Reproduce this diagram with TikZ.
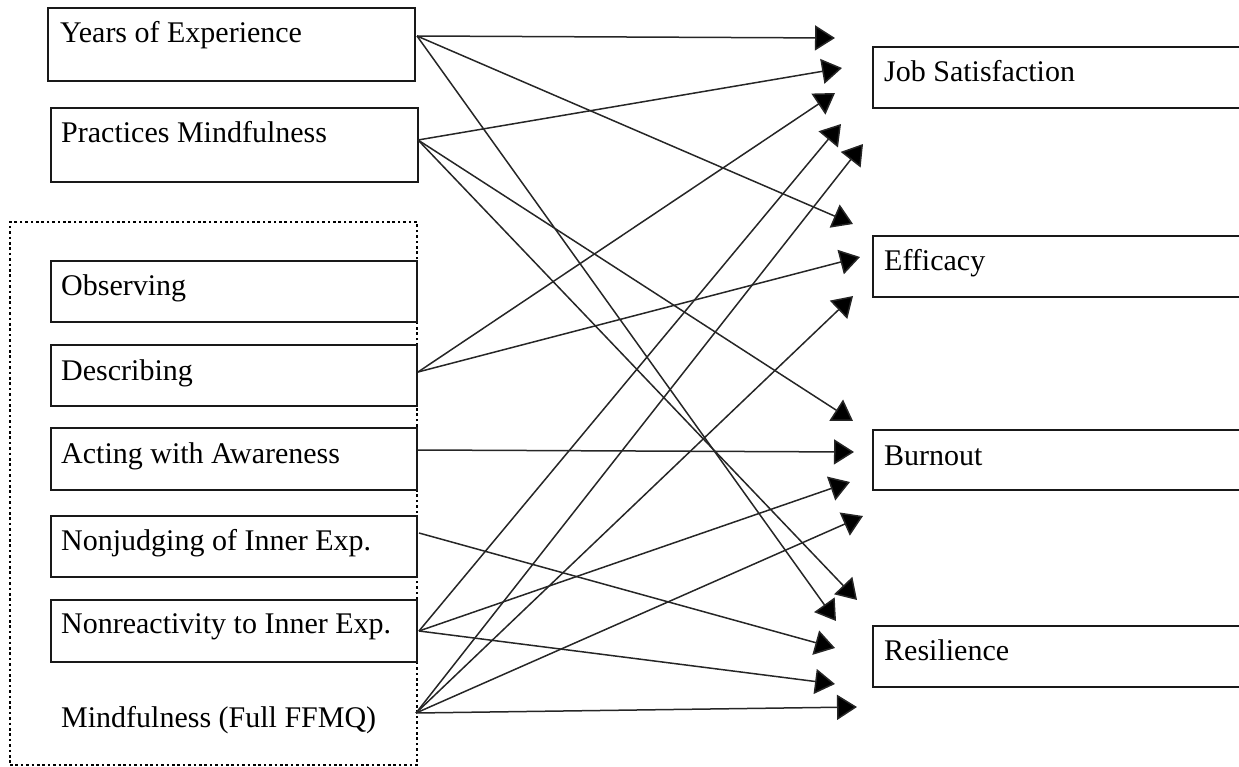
\documentclass[tikz,border=0pt]{standalone}
\usepackage{fontspec}
\setmainfont{Liberation Serif}
\usetikzlibrary{arrows.meta}
\begin{document}
\begin{tikzpicture}[x=1pt,y=-1pt,
  box/.style={draw=black!90, line width=1.6pt, anchor=north west, inner sep=0pt, outer sep=0pt},
  txt/.style={anchor=base west, inner sep=0pt, font=\fontsize{30}{36}\selectfont},
  arr/.style={draw=black!85, line width=1.5pt, -{Triangle[length=20pt,width=25pt,fill=black]}},
  group/.style={draw=black, line width=2.8pt, dash pattern=on 2.6pt off 2.8pt, anchor=north west, inner sep=0pt, outer sep=0pt}]
\useasboundingbox (0,0) rectangle (1239,767);
\clip (0,0) rectangle (1239,767);

% dotted FFMQ group
\node[group, minimum width=407pt, minimum height=543pt] (ffmq) at (10,222) {};

% left boxes
\node[box, minimum width=367pt, minimum height=73pt] (yrs) at (48,8) {};
\node[box, minimum width=367pt, minimum height=74pt] (prc) at (51,108) {};
\node[box, minimum width=366pt, minimum height=61pt] (obs) at (51,261) {};
\node[box, minimum width=366pt, minimum height=61pt] (dsc) at (51,345) {};
\node[box, minimum width=366pt, minimum height=62pt] (act) at (51,428) {};
\node[box, minimum width=366pt, minimum height=61pt] (nj) at (51,516) {};
\node[box, minimum width=366pt, minimum height=62pt] (nr) at (51,600) {};

% right boxes
\node[box, minimum width=380pt, minimum height=61pt] (js) at (873,47) {};
\node[box, minimum width=380pt, minimum height=61pt] (ef) at (873,236) {};
\node[box, minimum width=380pt, minimum height=60pt] (bo) at (873,430) {};
\node[box, minimum width=380pt, minimum height=61pt] (re) at (873,626) {};

% texts
\node[txt] (yrsT) at (60,43) {Years of Experience};
\node[txt] (prcT) at (61,143) {Practices Mindfulness};
\node[txt] (obsT) at (61,295) {Observing};
\node[txt] (dscT) at (61,380) {Describing};
\node[txt] (actT) at (61,463) {Acting with Awareness};
\node[txt] (njT) at (61,550) {Nonjudging of Inner Exp.};
\node[txt] (nrT) at (61,633) {Nonreactivity to Inner Exp.};
\node[txt] (ffT) at (61,727) {Mindfulness (Full FFMQ)};
\node[txt] (jsT) at (884,82) {Job Satisfaction};
\node[txt] (efT) at (884,271) {Efficacy};
\node[txt] (boT) at (884,465) {Burnout};
\node[txt] (reT) at (884,660) {Resilience};

% connector origins
\coordinate (yrsO) at (417,36);
\coordinate (prcO) at (418,140);
\coordinate (dscO) at (418,372);
\coordinate (actO) at (418,450);
\coordinate (njO) at (419,533);
\coordinate (nrO) at (419,631);
\coordinate (ffO) at (416,713);

% arrow tips
\coordinate (jsA) at (835,38);
\coordinate (jsB) at (842,68);
\coordinate (jsC) at (835,93);
\coordinate (jsD) at (841,124);
\coordinate (jsE) at (863,144);
\coordinate (efA) at (853,224);
\coordinate (efB) at (860,257);
\coordinate (efC) at (853,296);
\coordinate (boA) at (853,421);
\coordinate (boB) at (854,452);
\coordinate (boC) at (850,482);
\coordinate (boD) at (863,516);
\coordinate (reA) at (857,600);
\coordinate (reB) at (836,621);
\coordinate (reC) at (835,648);
\coordinate (reD) at (835,684);
\coordinate (reE) at (857,707);

% connectors
\draw[arr] (yrsO) -- (jsA);
\draw[arr] (yrsO) -- (efA);
\draw[arr] (yrsO) -- (reB);
\draw[arr] (prcO) -- (jsB);
\draw[arr] (prcO) -- (boA);
\draw[arr] (prcO) -- (reA);
\draw[arr] (dscO) -- (jsC);
\draw[arr] (dscO) -- (efB);
\draw[arr] (actO) -- (boB);
\draw[arr] (njO) -- (reC);
\draw[arr] (nrO) -- (jsD);
\draw[arr] (nrO) -- (boC);
\draw[arr] (nrO) -- (reD);
\draw[arr] (ffO) -- (jsE);
\draw[arr] (ffO) -- (efC);
\draw[arr] (ffO) -- (boD);
\draw[arr] (ffO) -- (reE);
\end{tikzpicture}
\end{document}
